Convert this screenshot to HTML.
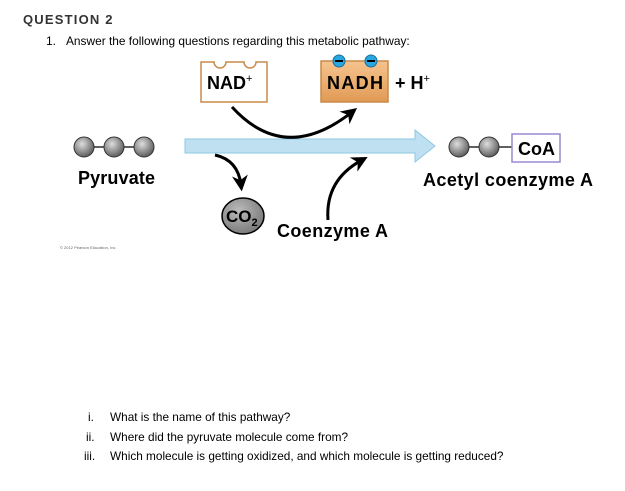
<!DOCTYPE html>
<html><head><style>
body{margin:0;width:625px;height:491px;background:#fff;position:relative;overflow:hidden;font-family:"Liberation Sans",Arial,sans-serif;}
.t{position:absolute;white-space:nowrap;color:#000;}
</style></head><body>
<div class="t" style="left:23px;top:12px;font-size:13px;font-weight:bold;letter-spacing:1.2px;color:#333;">QUESTION 2</div>
<div class="t" style="left:46px;top:34px;font-size:12px;">1.</div>
<div class="t" style="left:66px;top:34px;font-size:11.9px;">Answer the following questions regarding this metabolic pathway:</div>
<svg width="625" height="491" style="position:absolute;left:0;top:0" xmlns="http://www.w3.org/2000/svg">
<defs>
<radialGradient id="b" cx="0.4" cy="0.35" r="0.7"><stop offset="0" stop-color="#ddd"/><stop offset="1" stop-color="#555"/></radialGradient>
<linearGradient id="o" x1="0" y1="0" x2="0" y2="1"><stop offset="0" stop-color="#f6c48e"/><stop offset="1" stop-color="#e09a55"/></linearGradient>
<radialGradient id="c" cx="0.4" cy="0.35" r="0.7"><stop offset="0" stop-color="#bbb"/><stop offset="1" stop-color="#777"/></radialGradient>
<marker id="ah2" viewBox="0 0 10 10" markerWidth="16" markerHeight="16" refX="6" refY="5" orient="auto" markerUnits="userSpaceOnUse"><path d="M0,0 L10,5 L0,10 L3,5z" fill="#000"/></marker>
</defs>
<path d="M201,62 H214 A6,6 0 0 0 226,62 H244 A6,6 0 0 0 256,62 H267 V102 H201 Z" fill="#fff" stroke="#c98a4a" stroke-width="1.5"/>
<text x="207" y="89" font-size="18" font-weight="bold" font-family="Liberation Sans">NAD<tspan font-size="11" dy="-7" font-weight="normal">+</tspan></text>
<rect x="321" y="61" width="67" height="41" fill="url(#o)" stroke="#c98a4a" stroke-width="1.5"/>
<circle cx="339" cy="61" r="6" fill="#2aa6e0" stroke="#1a6e9a"/><rect x="335" y="60" width="8" height="2" fill="#000"/>
<circle cx="371" cy="61" r="6" fill="#2aa6e0" stroke="#1a6e9a"/><rect x="367" y="60" width="8" height="2" fill="#000"/>
<text x="327" y="89" font-size="18" font-weight="bold" font-family="Liberation Sans" textLength="56">NADH</text>
<text x="395" y="89" font-size="18" font-weight="bold" font-family="Liberation Sans">+ H<tspan font-size="11" dy="-7" font-weight="normal">+</tspan></text>
<path d="M185,139 H415 V130 L435,146 L415,162 V153 H185 Z" fill="#bfe0f0" stroke="#8ec7e2" stroke-width="1"/>
<path d="M232,107 Q285,165 352,112" fill="none" stroke="#000" stroke-width="3" marker-end="url(#ah2)"/>
<path d="M215,155 Q238,160 241,185" fill="none" stroke="#000" stroke-width="3" marker-end="url(#ah2)"/>
<path d="M328,220 Q325,180 362,160" fill="none" stroke="#000" stroke-width="3" marker-end="url(#ah2)"/>
<line x1="84" y1="147" x2="144" y2="147" stroke="#000" stroke-width="1.2"/>
<circle cx="84" cy="147" r="10" fill="url(#b)" stroke="#333"/>
<circle cx="114" cy="147" r="10" fill="url(#b)" stroke="#333"/>
<circle cx="144" cy="147" r="10" fill="url(#b)" stroke="#333"/>
<text x="78" y="184" font-size="18" font-weight="bold" font-family="Liberation Sans" textLength="77">Pyruvate</text>
<line x1="459" y1="147" x2="512" y2="147" stroke="#000" stroke-width="1.2"/>
<circle cx="459" cy="147" r="10" fill="url(#b)" stroke="#333"/>
<circle cx="489" cy="147" r="10" fill="url(#b)" stroke="#333"/>
<rect x="512" y="134" width="48" height="28" fill="#fff" stroke="#9a8ad0" stroke-width="1.5"/>
<text x="518" y="155" font-size="18" font-weight="bold" font-family="Liberation Sans" textLength="37">CoA</text>
<text x="423" y="186" font-size="18" font-weight="bold" font-family="Liberation Sans" textLength="170">Acetyl coenzyme A</text>
<ellipse cx="243" cy="216" rx="21" ry="18" fill="url(#c)" stroke="#000" stroke-width="1.5"/>
<text x="226" y="222" font-size="17" font-weight="bold" font-family="Liberation Sans">CO<tspan font-size="11" dy="4">2</tspan></text>
<text x="277" y="237" font-size="18" font-weight="bold" font-family="Liberation Sans" textLength="111">Coenzyme A</text>
<text x="60" y="249" font-size="4" fill="#666" font-family="Liberation Sans">© 2012 Pearson Education, Inc.</text>
</svg>
<div class="t" style="left:88px;top:410px;font-size:11.8px;">i.</div>
<div class="t" style="left:110px;top:410px;font-size:11.8px;">What is the name of this pathway?</div>
<div class="t" style="left:86px;top:430px;font-size:11.8px;">ii.</div>
<div class="t" style="left:110px;top:430px;font-size:11.8px;">Where did the pyruvate molecule come from?</div>
<div class="t" style="left:84px;top:449px;font-size:11.8px;">iii.</div>
<div class="t" style="left:110px;top:449px;font-size:11.8px;">Which molecule is getting oxidized, and which molecule is getting reduced?</div>
</body></html>
